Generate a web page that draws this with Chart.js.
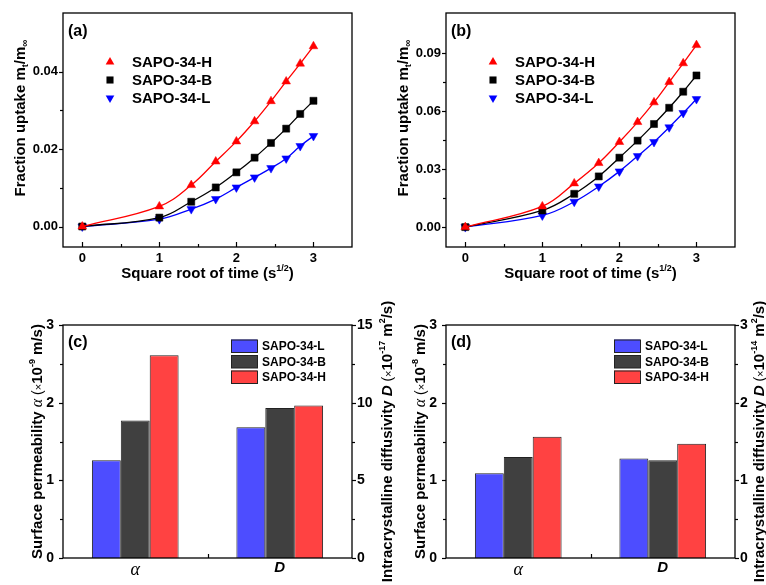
<!DOCTYPE html>
<html>
<head>
<meta charset="utf-8">
<script src="https://cdn.jsdelivr.net/npm/chart.js@4.4.1/dist/chart.umd.min.js"></script>
<style>
  body { margin: 0; background: #fff; }
  #wrap { position: relative; width: 766px; height: 585px; overflow: hidden; background: #fff; }
  canvas { position: absolute; }
</style>
</head>
<body>
<div id="wrap">
  <canvas id="chartA" width="383" height="290" style="left:0;top:0"></canvas>
  <canvas id="chartB" width="383" height="290" style="left:383px;top:0"></canvas>
  <canvas id="chartC" width="400" height="295" style="left:0;top:290px"></canvas>
  <canvas id="chartD" width="383" height="295" style="left:383px;top:290px"></canvas>
</div>
<script>
// uptake curves, x = square root of time (s^1/2)
const sqrtTime = [0, 1, 1.414, 1.732, 2, 2.236, 2.449, 2.646, 2.828, 3];
const uptakeA_H = [0, 0.0052, 0.0107, 0.0168, 0.0220, 0.0272, 0.0324, 0.0375, 0.0421, 0.0466];
const uptakeA_B = [0, 0.0023, 0.0064, 0.0101, 0.0140, 0.0178, 0.0216, 0.0253, 0.0291, 0.0325];
const uptakeA_L = [0, 0.0019, 0.0045, 0.0071, 0.0101, 0.0127, 0.0151, 0.0176, 0.0208, 0.0234];
const uptakeB_H = [0, 0.0107, 0.0226, 0.0331, 0.0440, 0.0543, 0.0645, 0.0750, 0.0847, 0.0941];
const uptakeB_B = [0, 0.0086, 0.0172, 0.0262, 0.0359, 0.0447, 0.0533, 0.0617, 0.0700, 0.0784];
const uptakeB_L = [0, 0.0060, 0.0131, 0.0210, 0.0288, 0.0367, 0.0440, 0.0516, 0.0590, 0.0662];

// bar panels: order L, B, H
const samples = ['SAPO-34-L', 'SAPO-34-B', 'SAPO-34-H'];
const barCategories = ['α', 'D'];
const alphaC = [1.26, 1.77, 2.61];
const diffC = [8.42, 9.66, 9.81];
const alphaD = [1.09, 1.30, 1.56];
const diffD = [1.28, 1.26, 1.47];

// tick values
const xMajor = [0, 1, 2, 3];
const xMinor = [0.5, 1.5, 2.5];
const yMajorA = [0, 0.02, 0.04];
const yMinorA = [0.01, 0.03];
const yMajorB = [0, 0.03, 0.06, 0.09];
const yMinorB = [0.015, 0.045, 0.075];
const barMajor = [0, 1, 2, 3];
const barMinor = [0.5, 1.5, 2.5];
const diffMajorC = [0, 5, 10, 15];
const diffMinorC = [2.5, 7.5, 12.5];

const SANS = '"Liberation Sans", Arial, sans-serif';
const B15 = 'bold 15px ' + SANS;
const B9 = 'bold 9px ' + SANS;
const colors = { H: '#ff0000', B: '#000000', L: '#0000ff' };
const barColors = ['#4d4dff', '#404040', '#ff4242'];

function drawRich(ctx, parts, cx, cy, angle) {
  ctx.save();
  ctx.translate(cx, cy);
  ctx.rotate(angle);
  ctx.textBaseline = 'alphabetic';
  ctx.textAlign = 'left';
  let total = 0;
  parts.forEach(p => { ctx.font = p.font; p.w = ctx.measureText(p.text).width; total += p.w; });
  let x = -total / 2;
  parts.forEach(p => {
    ctx.font = p.font;
    ctx.fillStyle = '#000';
    ctx.fillText(p.text, x, 5 + (p.dy || 0));
    x += p.w;
  });
  ctx.restore();
}

function drawMarker(ctx, style, x, y, r, color) {
  ctx.fillStyle = color;
  ctx.beginPath();
  if (style === 'rect') {
    const s = r * Math.SQRT1_2;
    ctx.rect(x - s, y - s, 2 * s, 2 * s);
  } else {
    const d = style === 'down' ? -1 : 1;
    ctx.moveTo(x, y - d * r);
    ctx.lineTo(x + r * 0.866, y + d * r * 0.5);
    ctx.lineTo(x - r * 0.866, y + d * r * 0.5);
    ctx.closePath();
  }
  ctx.fill();
}

function decorPlugin(spec) {
  return {
    id: 'decor',
    afterDraw(chart) {
      const ctx = chart.ctx, a = chart.chartArea;
      ctx.save();
      ctx.strokeStyle = '#000';
      ctx.lineWidth = 1.3;
      ctx.strokeRect(a.left, a.top, a.right - a.left, a.bottom - a.top);

      // tick marks
      ctx.lineWidth = 1.2;
      spec.marks.forEach(m => {
        const sc = chart.scales[m.axis];
        m.values.forEach(v => {
          const p = Math.round(sc.getPixelForValue(v)) + 0.5;
          ctx.beginPath();
          if (m.side === 'bottom') { ctx.moveTo(p, a.bottom); ctx.lineTo(p, a.bottom - m.len); }
          else if (m.side === 'left') { ctx.moveTo(a.left, p); ctx.lineTo(a.left - m.len, p); }
          else { ctx.moveTo(a.right, p); ctx.lineTo(a.right + m.len, p); }
          ctx.stroke();
        });
      });

      // panel label
      ctx.fillStyle = '#000';
      ctx.font = 'bold 16px ' + SANS;
      ctx.textBaseline = 'middle';
      ctx.textAlign = 'left';
      ctx.fillText(spec.panel, a.left + 5, a.top + spec.panelDy);

      // axis titles
      spec.titles.forEach(t => drawRich(ctx, t.parts, t.x(a), t.y(a), t.rot));

      // legend
      const lg = spec.legend;
      lg.items.forEach((it, i) => {
        const y = a.top + lg.top + i * lg.gap;
        if (lg.kind === 'marker') {
          drawMarker(ctx, it.marker, a.left + lg.left, y, 5, it.color);
        } else {
          ctx.fillStyle = it.color;
          ctx.fillRect(a.left + lg.left, y - 6.5, 26, 13);
          ctx.strokeStyle = '#222';
          ctx.lineWidth = 1;
          ctx.strokeRect(a.left + lg.left + 0.5, y - 6, 26, 12.5);
        }
        ctx.fillStyle = '#000';
        ctx.font = lg.font;
        ctx.textBaseline = 'middle';
        ctx.fillText(it.name, a.left + lg.textLeft, y + 1);
      });
      ctx.restore();
    }
  };
}

function fixedAxis(prop, size) {
  return s => { s[prop] = size; };
}

function uptakeChart(id, panel, series, yMin, yMax, yMajor, yMinor) {
  const W = 383, H = 290;
  const plot = { left: 63, right: 352, top: 13, bottom: 247 };
  const tickFont = { family: SANS, size: 13, weight: 'bold' };
  new Chart(document.getElementById(id), {
    type: 'line',
    data: {
      datasets: series.map(s => ({
        label: s.name,
        data: sqrtTime.map((x, i) => ({ x: x, y: s.values[i] })),
        borderColor: s.color,
        backgroundColor: s.color,
        borderWidth: 1.3,
        pointStyle: s.marker === 'rect' ? 'rect' : 'triangle',
        pointRotation: s.marker === 'down' ? 180 : 0,
        pointRadius: 5,
        pointBackgroundColor: s.color,
        pointBorderColor: s.color,
        pointBorderWidth: 0.5,
        tension: 0.4,
        clip: 8
      }))
    },
    options: {
      responsive: false,
      animation: false,
      events: [],
      layout: { padding: { left: 0, top: plot.top, right: W - plot.right, bottom: 0 } },
      plugins: { legend: { display: false }, tooltip: { enabled: false } },
      scales: {
        x: {
          type: 'linear', min: -0.25, max: 3.5, bounds: 'data',
          afterFit: fixedAxis('height', H - plot.bottom),
          afterBuildTicks: s => { s.ticks = xMajor.map(v => ({ value: v })); },
          grid: { display: false, drawTicks: false },
          border: { display: false },
          ticks: { autoSkip: false, maxRotation: 0, padding: 4, color: '#000', font: tickFont, callback: v => String(v) }
        },
        y: {
          type: 'linear', min: yMin, max: yMax, bounds: 'data',
          afterFit: fixedAxis('width', plot.left),
          afterBuildTicks: s => { s.ticks = yMajor.map(v => ({ value: v })); },
          grid: { display: false, drawTicks: false },
          border: { display: false },
          ticks: { autoSkip: false, padding: 5, color: '#000', font: tickFont, callback: v => v.toFixed(2) }
        }
      }
    },
    plugins: [decorPlugin({
      panel: panel,
      panelDy: 19,
      marks: [
        { axis: 'x', side: 'bottom', values: xMajor, len: 5 },
        { axis: 'x', side: 'bottom', values: xMinor, len: 3 },
        { axis: 'y', side: 'left', values: yMajor, len: 4 },
        { axis: 'y', side: 'left', values: yMinor, len: 3 }
      ],
      titles: [
        {
          parts: [
            { text: 'Square root of time (s', font: B15 },
            { text: '1/2', font: B9, dy: -7 },
            { text: ')', font: B15 }
          ],
          x: a => (a.left + a.right) / 2, y: a => a.bottom + 26, rot: 0
        },
        {
          parts: [
            { text: 'Fraction uptake m', font: B15 },
            { text: 't', font: B9, dy: 3 },
            { text: '/m', font: B15 },
            { text: '∞', font: 'bold 10px ' + SANS, dy: 3 }
          ],
          x: a => a.left - 43, y: a => (a.top + a.bottom) / 2 - 12, rot: -Math.PI / 2
        }
      ],
      legend: {
        kind: 'marker', left: 47, textLeft: 69, top: 49, gap: 18, font: B15,
        items: series
      }
    })]
  });
}

function barChart(id, panel, W, alphaVals, diffVals, y1Max, y1Major, y1Minor, expA, expD, rightTitleGap) {
  const H = 295;
  const plot = { left: 63, right: 352, top: 35, bottom: 268 };
  const tickFont = { family: SANS, size: 14, weight: 'bold' };
  const datasets = [];
  samples.forEach((name, i) => datasets.push({
    label: name, data: [alphaVals[i], null], yAxisID: 'y',
    backgroundColor: barColors[i], borderColor: '#222', borderWidth: 1,
    skipNull: true, categoryPercentage: 0.6, barPercentage: 1
  }));
  samples.forEach((name, i) => datasets.push({
    label: name, data: [null, diffVals[i]], yAxisID: 'y1',
    backgroundColor: barColors[i], borderColor: '#222', borderWidth: 1,
    skipNull: true, categoryPercentage: 0.6, barPercentage: 1
  }));
  const light = '14px ' + SANS;
  new Chart(document.getElementById(id), {
    type: 'bar',
    data: { labels: barCategories, datasets: datasets },
    options: {
      responsive: false,
      animation: false,
      events: [],
      layout: { padding: { left: 0, top: plot.top, right: 0, bottom: 0 } },
      plugins: { legend: { display: false }, tooltip: { enabled: false } },
      scales: {
        x: {
          afterFit: fixedAxis('height', H - plot.bottom),
          grid: { display: false, drawTicks: false },
          border: { display: false },
          ticks: {
            padding: 1, color: '#000', maxRotation: 0,
            font: c => c.index === 0
              ? { family: '"Liberation Serif", "DejaVu Serif", serif', style: 'italic', size: 18 }
              : { family: SANS, style: 'italic', weight: 'bold', size: 15 }
          }
        },
        y: {
          position: 'left', min: 0, max: 3, bounds: 'data',
          afterFit: fixedAxis('width', plot.left),
          afterBuildTicks: s => { s.ticks = barMajor.map(v => ({ value: v })); },
          grid: { display: false, drawTicks: false },
          border: { display: false },
          ticks: { autoSkip: false, padding: 9, color: '#000', font: tickFont }
        },
        y1: {
          position: 'right', min: 0, max: y1Max, bounds: 'data',
          afterFit: fixedAxis('width', W - plot.right),
          afterBuildTicks: s => { s.ticks = y1Major.map(v => ({ value: v })); },
          grid: { display: false, drawTicks: false },
          border: { display: false },
          ticks: { autoSkip: false, padding: 5, color: '#000', font: tickFont }
        }
      }
    },
    plugins: [decorPlugin({
      panel: panel,
      panelDy: 18,
      marks: [
        { axis: 'x', side: 'bottom', values: [0.5], len: 4 },
        { axis: 'y', side: 'left', values: barMajor, len: 4 },
        { axis: 'y', side: 'left', values: barMinor, len: 3 },
        { axis: 'y1', side: 'right', values: y1Major, len: 4 },
        { axis: 'y1', side: 'right', values: y1Minor, len: 3 }
      ],
      titles: [
        {
          parts: [
            { text: 'Surface permeability ', font: B15 },
            { text: 'α', font: 'italic 16px "Liberation Serif", serif' },
            { text: ' (', font: light },
            { text: '×', font: '11px ' + SANS },
            { text: '10', font: B15 },
            { text: expA, font: B9, dy: -7 },
            { text: ' m/s)', font: B15 }
          ],
          x: a => a.left - 26, y: a => (a.top + a.bottom) / 2, rot: -Math.PI / 2
        },
        {
          parts: [
            { text: 'Intracrystalline diffusivity ', font: B15 },
            { text: 'D', font: 'italic bold 15px ' + SANS },
            { text: ' (', font: light },
            { text: '×', font: '11px ' + SANS },
            { text: '10', font: B15 },
            { text: expD, font: B9, dy: -7 },
            { text: ' m', font: B15 },
            { text: '2', font: B9, dy: -7 },
            { text: '/s)', font: B15 }
          ],
          x: a => a.right + rightTitleGap, y: a => (a.top + a.bottom) / 2, rot: -Math.PI / 2
        }
      ],
      legend: {
        kind: 'box', left: 168, textLeft: 199, top: 21, gap: 15.5, font: 'bold 12px ' + SANS,
        items: samples.map((name, i) => ({ name: name, color: barColors[i] }))
      }
    })]
  });
}

uptakeChart('chartA', '(a)', [
  { name: 'SAPO-34-H', values: uptakeA_H, color: colors.H, marker: 'up' },
  { name: 'SAPO-34-B', values: uptakeA_B, color: colors.B, marker: 'rect' },
  { name: 'SAPO-34-L', values: uptakeA_L, color: colors.L, marker: 'down' }
], -0.0053, 0.0552, yMajorA, yMinorA);

uptakeChart('chartB', '(b)', [
  { name: 'SAPO-34-H', values: uptakeB_H, color: colors.H, marker: 'up' },
  { name: 'SAPO-34-B', values: uptakeB_B, color: colors.B, marker: 'rect' },
  { name: 'SAPO-34-L', values: uptakeB_L, color: colors.L, marker: 'down' }
], -0.0103, 0.1107, yMajorB, yMinorB);

barChart('chartC', '(c)', 400, alphaC, diffC, 15, diffMajorC, diffMinorC, '-9', '-17', 35);
barChart('chartD', '(d)', 383, alphaD, diffD, 3, barMajor, barMinor, '-8', '-14', 24);
</script>
</body>
</html>
